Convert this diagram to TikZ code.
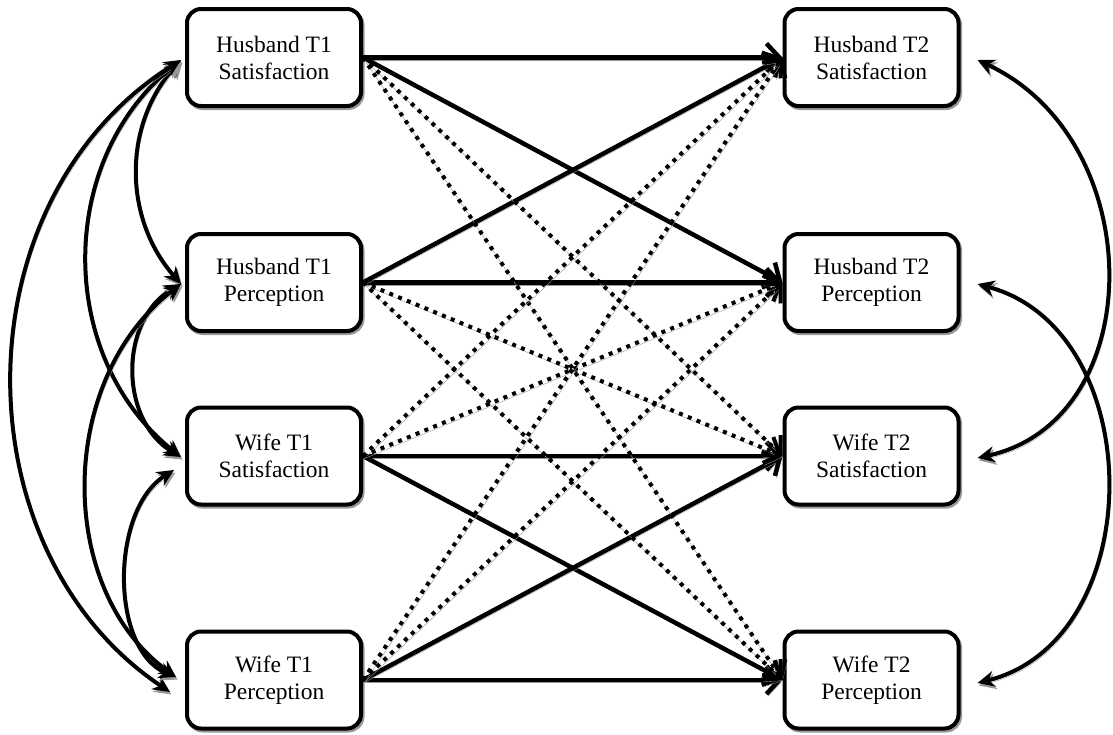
\documentclass[tikz,border=0pt]{standalone}
\usepackage{fontspec}
\setmainfont{Liberation Serif}
\usetikzlibrary{arrows.meta,calc}
\begin{document}
\begin{tikzpicture}[x=1pt,y=-1pt,
  box/.style={draw, fill=white, line width=4pt, rounded corners=14pt, minimum width=174pt, minimum height=97pt,
    align=center, font=\fontsize{23.5}{27}\selectfont, inner sep=0pt,
    preaction={draw=black!40, line width=4pt, transform canvas={shift={(1.5,2)}}}},
  sh/.style={preaction={draw=black!40, transform canvas={shift={(1.5,2.5)}}}},
  reg/.style={line width=4.5pt, -{Straight Barb[length=13pt,width=28pt]}, sh},
  dotp/.style={line width=4pt, dash pattern=on 4pt off 5.5pt, -{Straight Barb[length=13pt,width=28pt]}, sh},
  cov/.style={line width=4pt, {Stealth[length=17pt,width=16pt]}-{Stealth[length=17pt,width=16pt]}, sh}
]
\useasboundingbox (0,0) rectangle (1113,734);

\node[box] (HS1) at (274,57.5) {Husband T1\\Satisfaction};
\node[box] (HP1) at (274,282.5) {Husband T1\\Perception};
\node[box] (WS1) at (274,456) {Wife T1\\Satisfaction};
\node[box] (WP1) at (274,680) {Wife T1\\Perception};
\node[box] (HS2) at (871.5,57.5) {Husband T2\\Satisfaction};
\node[box] (HP2) at (871.5,282.5) {Husband T2\\Perception};
\node[box] (WS2) at (871.5,456) {Wife T2\\Satisfaction};
\node[box] (WP2) at (871.5,680) {Wife T2\\Perception};

% stability and cross paths (solid)
\draw[reg] (HS1.east) -- (HS2.west);
\draw[reg] (HP1.east) -- (HP2.west);
\draw[reg] (WS1.east) -- (WS2.west);
\draw[reg] (WP1.east) -- (WP2.west);
\draw[reg] (HS1.east) -- (HP2.west);
\draw[reg] (HP1.east) -- (HS2.west);
\draw[reg] (WS1.east) -- (WP2.west);
\draw[reg] (WP1.east) -- (WS2.west);

% cross-partner paths (dotted)
\draw[dotp] (HS1.east) -- (WS2.west);
\draw[dotp] (HS1.east) -- (WP2.west);
\draw[dotp] (HP1.east) -- (WS2.west);
\draw[dotp] (HP1.east) -- (WP2.west);
\draw[dotp] (WS1.east) -- (HS2.west);
\draw[dotp] (WS1.east) -- (HP2.west);
\draw[dotp] (WP1.east) -- (HS2.west);
\draw[dotp] (WP1.east) -- (HP2.west);

% covariance end points
\coordinate (hs1l) at ($(HS1.west)+(-4,2.5)$);
\coordinate (hp1l) at ($(HP1.west)+(-4,1.5)$);
\coordinate (ws1a) at ($(WS1.west)+(-4,1)$);
\coordinate (ws1b) at ($(WS1.west)+(-11,14)$);
\coordinate (wp1a) at ($(WP1.west)+(-9,-3)$);
\coordinate (wp1b) at ($(WP1.west)+(-15,12)$);
\coordinate (hs2r) at ($(HS2.east)+(17,2.5)$);
\coordinate (hp2r) at ($(HP2.east)+(17,1.5)$);
\coordinate (ws2r) at ($(WS2.east)+(17,2)$);
\coordinate (wp2r) at ($(WP2.east)+(17,3)$);

% T1 covariances
\draw[cov] (hs1l) .. controls (123,125) and (123,218) .. (hp1l);
\draw[cov] (hs1l) .. controls (56,160) and (56,357) .. (ws1a);
\draw[cov] (hs1l) .. controls (-42,200) and (-42,550) .. (wp1b);
\draw[cov] (hp1l) .. controls (119,320) and (119,420) .. (ws1a);
\draw[cov] (hp1l) .. controls (56,380) and (56,590) .. (wp1a);
\draw[cov] (ws1b) .. controls (110,510) and (110,650) .. (wp1a);

% T2 residual covariances
\draw[cov] (hs2r) .. controls (1150,140) and (1150,420) .. (ws2r);
\draw[cov] (hp2r) .. controls (1150,330) and (1150,640) .. (wp2r);
\end{tikzpicture}
\end{document}
